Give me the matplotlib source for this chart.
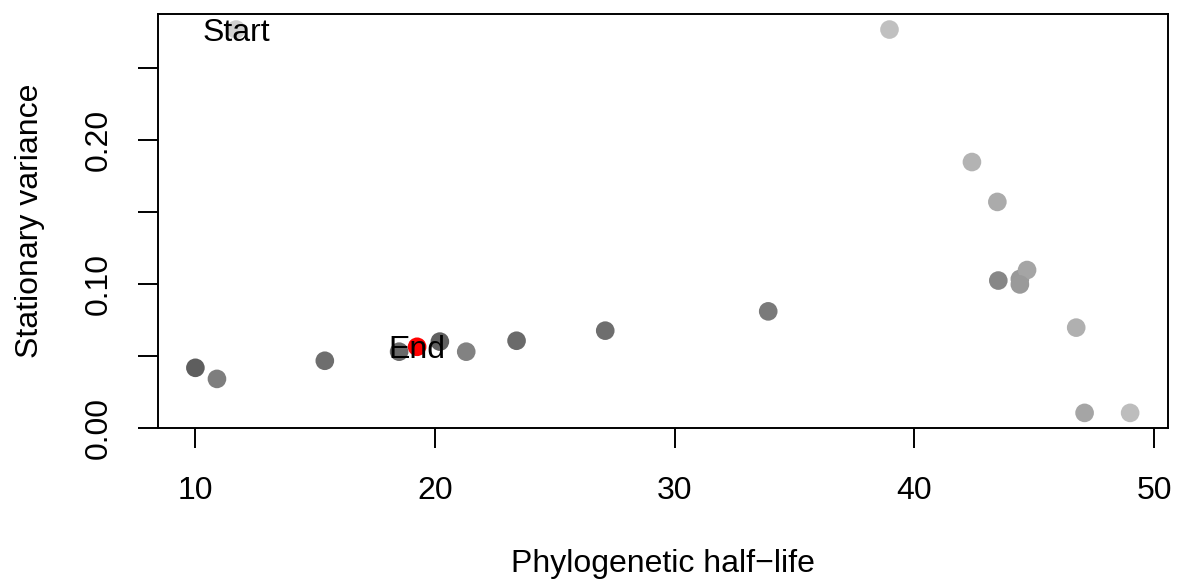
import matplotlib
matplotlib.use("Agg")
import matplotlib.pyplot as plt
from matplotlib.ticker import FixedLocator, FixedFormatter

plt.rcParams['font.family'] = ['Liberation Sans', 'DejaVu Sans']

# data
half_life = [11.7, 38.96, 42.4, 43.46, 43.5, 44.4, 44.7, 44.4, 46.75, 47.1, 49.0,
             33.9, 27.1, 23.4, 21.3, 20.2, 18.5, 15.4, 10.0, 10.9]
stat_var = [0.2767, 0.2767, 0.1847, 0.157, 0.1024, 0.1035, 0.1097, 0.0997, 0.0697, 0.0105, 0.0105,
            0.081, 0.0676, 0.0606, 0.053, 0.060, 0.053, 0.0467, 0.0418, 0.0341]
grey_levels = ['#d0d0d0', '#c0c0c0', '#b3b3b3', '#ababab', '#878787', '#999999', '#a5a5a5',
               '#9a9a9a', '#b0b0b0', '#a5a5a5', '#bdbdbd', '#7a7a7a', '#6e6e6e', '#6a6a6a',
               '#828282', '#606060', '#6a6a6a', '#6e6e6e', '#5e5e5e', '#7e7e7e']
start_point = (11.7, 0.2767)
end_point = (19.25, 0.0564)

xticks = [10, 20, 30, 40, 50]
yticks = [0.0, 0.05, 0.10, 0.15, 0.20, 0.25]
ytick_labels = ['0.00', '', '0.10', '', '0.20', '']

fig = plt.figure(figsize=(11.78, 5.8), dpi=100)
ax = fig.add_axes([158/1178, 1 - 428/580, (1168-158)/1178, (428-14)/580])

ax.scatter(half_life, stat_var, s=180, c=grey_levels, edgecolors='none', zorder=2)
ax.scatter([end_point[0]], [end_point[1]], s=180, c='#ff0000', edgecolors='none', zorder=3)

fs = 23
ax.text(start_point[0], start_point[1], 'Start', ha='center', va='center_baseline', fontsize=fs, zorder=4)
ax.text(end_point[0], end_point[1], 'End', ha='center', va='center_baseline', fontsize=fs, zorder=4)

ax.set_xlim(8.44, 50.58)
ax.set_ylim(0.0, 0.2875)

ax.xaxis.set_major_locator(FixedLocator(xticks))
ax.yaxis.set_major_locator(FixedLocator(yticks))
ax.yaxis.set_major_formatter(FixedFormatter(ytick_labels))

for side in ['top', 'right', 'left', 'bottom']:
    ax.spines[side].set_linewidth(1.4)
    ax.spines[side].set_color('black')

ax.tick_params(axis='both', length=14.5, width=1.4, labelsize=fs, color='black')
ax.tick_params(axis='x', pad=20)
ax.tick_params(axis='y', pad=17)
for lab in ax.get_yticklabels():
    lab.set_rotation(90)
    lab.set_va('center')

ax.set_xlabel('Phylogenetic half\u2212life', fontsize=fs, va='center')
ax.xaxis.set_label_coords(0.5, (428 - 564) / 414)
ax.set_ylabel('Stationary variance', fontsize=fs, va='center')
ax.yaxis.set_label_coords((30 - 158) / 1010, 0.5)

fig.savefig('out.png', dpi=100)
